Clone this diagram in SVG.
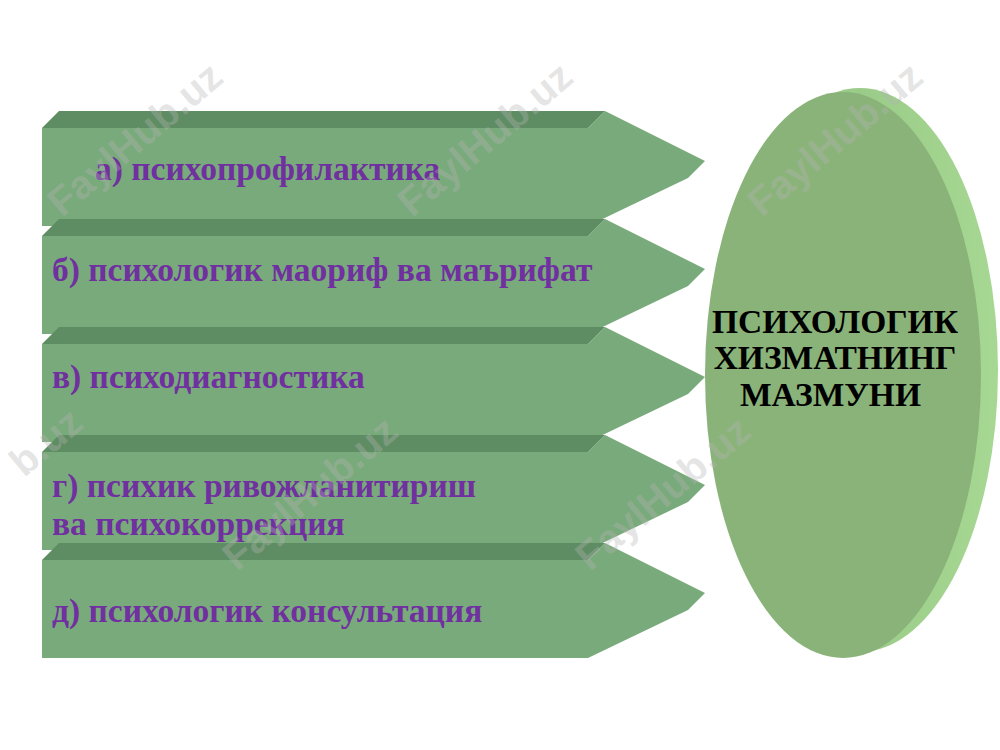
<svg xmlns="http://www.w3.org/2000/svg" width="1000" height="750" viewBox="0 0 1000 750">
<style>
.front{fill:#79aa7b}
.top{fill:#5f8d63}
.lbl{font-family:"Liberation Serif","Times New Roman",serif;font-weight:bold;font-size:33.5px;fill:#7030a0}
.ctr{font-family:"Liberation Serif","Times New Roman",serif;font-weight:bold;font-size:33.5px;fill:#000}
.wm{font-family:"Liberation Sans",Arial,sans-serif;font-weight:bold;font-size:40px;fill:#b4b4b4;fill-opacity:0.35}
</style>
<defs>
<g id="arrow">
<polygon class="front" points="0,0 546,0 563,-17 663,33 646,50 546,98 0,98"/>
<polygon class="top" points="0,0 17,-17 563,-17 546,0"/>
</g>
<linearGradient id="rim" x1="0" y1="0" x2="1" y2="0">
<stop offset="0" stop-color="#8fbf7e"/>
<stop offset="1" stop-color="#a6d893"/>
</linearGradient>
</defs>
<rect width="1000" height="750" fill="#fff"/>
<g id="node-a"><use href="#arrow" x="42" y="128"/><text class="lbl" x="95" y="180">а) психопрофилактика</text></g>
<g id="node-b"><use href="#arrow" x="42" y="236"/><text class="lbl" x="52" y="281">б) психологик маориф ва маърифат</text></g>
<g id="node-c"><use href="#arrow" x="42" y="344"/><text class="lbl" x="52" y="388">в) психодиагностика</text></g>
<g id="node-d"><use href="#arrow" x="42" y="452"/><text class="lbl" x="52" y="497">г) психик ривожланитириш</text><text class="lbl" x="52" y="535">ва психокоррекция</text></g>
<g id="node-e"><use href="#arrow" x="42" y="560"/><text class="lbl" x="52" y="622">д) психологик консультация</text></g>
<g id="center">
<ellipse cx="860" cy="370" rx="138" ry="282" fill="url(#rim)"/>
<ellipse cx="843" cy="375" rx="138" ry="283" fill="#8ab37a"/>
<text class="ctr" x="835" y="333" text-anchor="middle">ПСИХОЛОГИК</text>
<text class="ctr" x="835" y="369" text-anchor="middle">ХИЗМАТНИНГ</text>
<text class="ctr" x="740" y="406">МАЗМУНИ</text>
</g>
<g id="connectors"/>
<g id="watermarks">
<text class="wm" transform="translate(62,218) rotate(-40)">FaylHub.uz</text>
<text class="wm" transform="translate(412,218) rotate(-40)">FaylHub.uz</text>
<text class="wm" transform="translate(762,218) rotate(-40)">FaylHub.uz</text>
<text class="wm" transform="translate(24,478) rotate(-40)">b.uz</text>
<text class="wm" transform="translate(237,572) rotate(-40)">FaylHub.uz</text>
<text class="wm" transform="translate(590,572) rotate(-40)">FaylHub.uz</text>
</g>
</svg>
